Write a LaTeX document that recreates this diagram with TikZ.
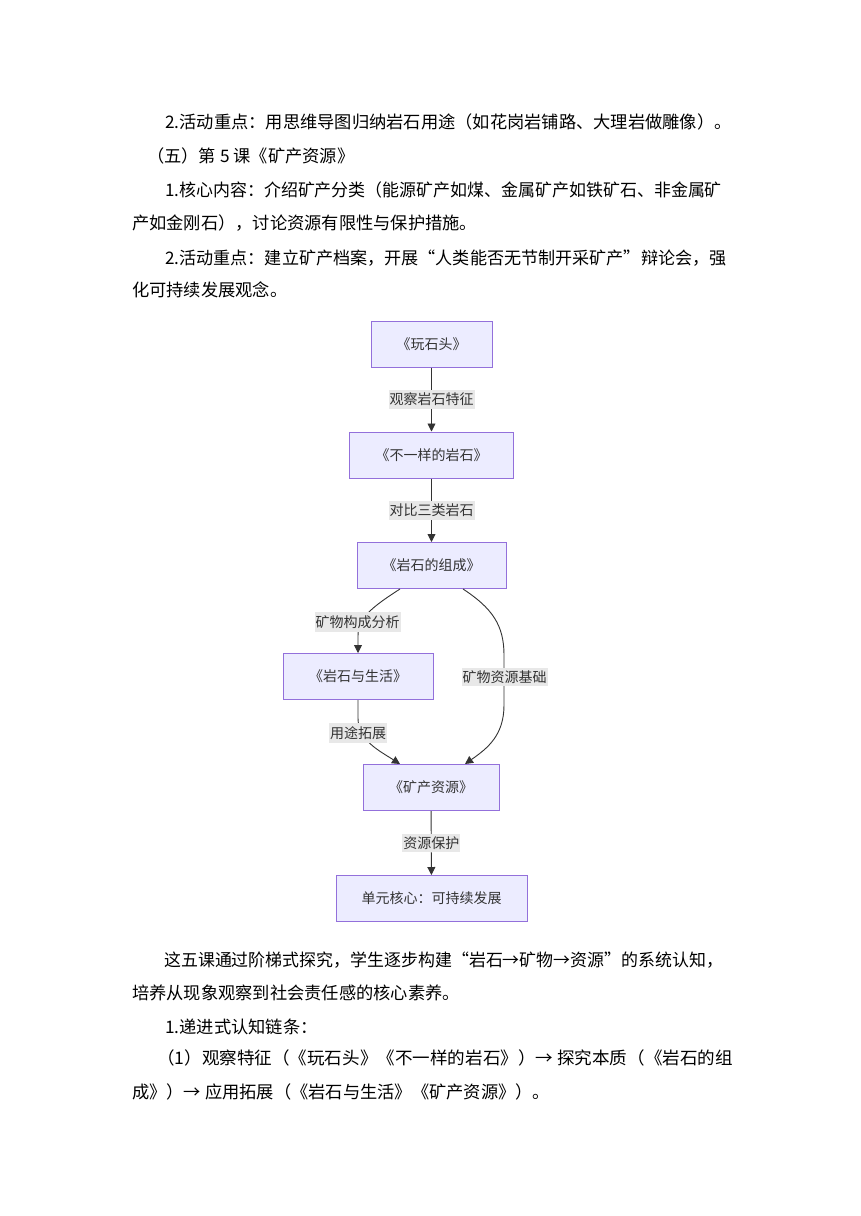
\documentclass[tikz,border=0pt]{standalone}
\usepackage{graphicx}
\usepackage{fontspec}
\setmainfont{Noto Sans CJK SC}
\usetikzlibrary{arrows.meta}
\definecolor{nodefill}{HTML}{ECECFF}
\definecolor{nodeborder}{HTML}{9370DB}
\definecolor{edgecol}{HTML}{333333}
\definecolor{labelbg}{HTML}{E8E8E8}
\definecolor{txtcol}{HTML}{333333}
\newcommand{\jline}[2]{\scalebox{#1}[1]{#2}}
\begin{document}
\begin{tikzpicture}[x=1pt,y=-1pt,
  body/.style={anchor=west, inner sep=0pt, font=\fontsize{17.25}{20}\selectfont, text=black},
  flow/.style={draw=nodeborder, fill=nodefill, line width=1pt, minimum height=46pt, inner sep=0pt, font=\fontsize{14}{16}\selectfont, text=txtcol},
  elabel/.style={fill=labelbg, inner xsep=1pt, inner ysep=3pt, font=\fontsize{14}{16}\selectfont, text=txtcol},
  conn/.style={draw=edgecol, line width=0.9pt, -{Triangle[length=8pt,width=8pt]}}]
\fill[white] (0,0) rectangle (860,1216);
\useasboundingbox (0,0) rectangle (860,1216);

% top text
\node[body] (t1) at (165,122) {2.活动重点：用思维导图归纳岩石用途（如花岗岩铺路、大理岩做雕像）。};
\node[body] (t2) at (147,156) {（五）第 5 课《矿产资源》};
\node[body] (t3) at (165,190) {\jline{0.983}{1.核心内容：介绍矿产分类（能源矿产如煤、金属矿产如铁矿石、非金属矿}};
\node[body] (t4) at (132,223) {产如金刚石），讨论资源有限性与保护措施。};
\node[body] (t5) at (165,258) {\jline{0.991}{2.活动重点：建立矿产档案，开展“人类能否无节制开采矿产”辩论会，强}};
\node[body] (t6) at (132,290) {化可持续发展观念。};

% flowchart nodes
\node[flow, minimum width=121pt] (n1) at (431.5,344) {《玩石头》};
\node[flow, minimum width=164pt] (n2) at (431.5,455) {《不一样的岩石》};
\node[flow, minimum width=149pt] (n3) at (431.5,565.5) {《岩石的组成》};
\node[flow, minimum width=150pt] (n4) at (358,676.5) {《岩石与生活》};
\node[flow, minimum width=136pt] (n5) at (431,787.5) {《矿产资源》};
\node[flow, minimum width=191pt] (n6) at (431.5,898.5) {单元核心：可持续发展};

% connectors
\draw[conn] (n1) -- node[elabel] (l1) {观察岩石特征} (n2);
\draw[conn] (n2) -- node[elabel] (l2) {对比三类岩石} (n3);
\draw[conn] ([xshift=-31.5pt]n3.south) .. controls (372,607) and (358,618) .. (358,636) -- (n4.north);
\draw[conn] ([xshift=31.5pt]n3.south) .. controls (492,608) and (504,625) .. (504,655) -- (504,705) .. controls (504,735) and (488,748) .. ([xshift=34pt]n5.north);
\draw[conn] (n4.south) -- (358,718) .. controls (358,740) and (378,750) .. ([xshift=-31pt]n5.north);
\draw[conn] (n5) -- node[elabel] (l6) {资源保护} (n6);
\node[elabel] (l3) at (357.5,622) {矿物构成分析};
\node[elabel] (l4) at (504.5,677) {矿物资源基础};
\node[elabel] (l5) at (358,733) {用途拓展};

% bottom text
\node[body] (b1) at (164,960) {\jline{0.982}{这五课通过阶梯式探究，学生逐步构建“岩石→矿物→资源”的系统认知，}};
\node[body] (b2) at (132,993) {培养从现象观察到社会责任感的核心素养。};
\node[body] (b3) at (165,1027) {1.递进式认知链条：};
\node[body] (b4) at (157,1058) {\jline{1.018}{（1）观察特征（《玩石头》《不一样的岩石》）→ 探究本质（《岩石的组}};
\node[body] (b5) at (132,1092) {成》）→ 应用拓展（《岩石与生活》《矿产资源》）。};
\end{tikzpicture}
\end{document}
